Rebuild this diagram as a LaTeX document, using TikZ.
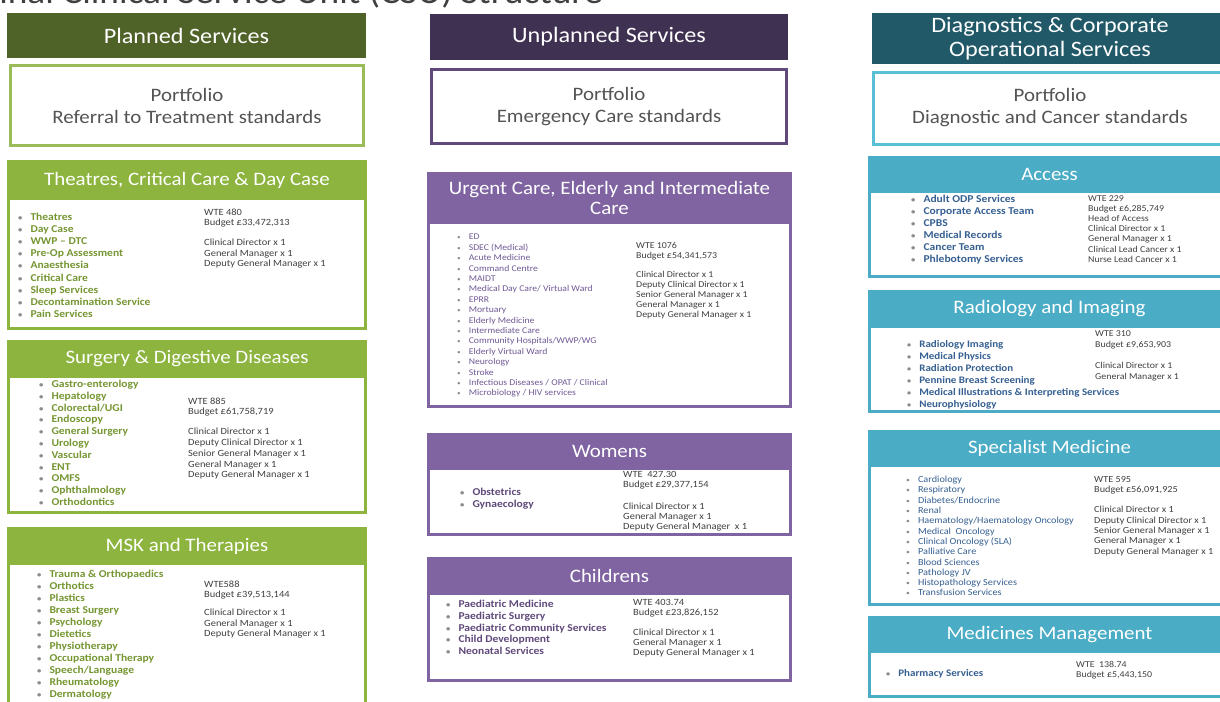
\documentclass[tikz,border=0pt]{standalone}
\usepackage{fontspec}
\setmainfont[FakeStretch=1.1]{Carlito}
\definecolor{plannedDark}{RGB}{79,98,40}
\definecolor{plannedMid}{RGB}{140,180,62}
\definecolor{plannedLight}{RGB}{155,187,89}
\definecolor{greenText}{RGB}{118,150,50}
\definecolor{unplannedDark}{RGB}{63,49,81}
\definecolor{unplannedLine}{RGB}{96,74,123}
\definecolor{unplannedMid}{RGB}{128,100,162}
\definecolor{purpleText}{RGB}{96,74,123}
\definecolor{purpleSoft}{RGB}{112,90,150}
\definecolor{diagDark}{RGB}{33,89,104}
\definecolor{diagMid}{RGB}{75,172,198}
\definecolor{diagLight}{RGB}{91,190,215}
\definecolor{blueText}{RGB}{54,96,146}
\definecolor{textgray}{RGB}{64,64,64}
\definecolor{portgray}{RGB}{84,84,84}
\definecolor{bulletgray}{RGB}{140,140,140}
\newcommand{\itm}[1]{{\color{bulletgray}\scalebox{0.75}{\textbullet}}\hspace{8pt}#1}

\begin{document}
\begin{tikzpicture}[x=1pt,y=-1pt,
  bighd/.style={fill=#1, text=white, inner sep=0pt, align=center, font=\fontsize{22}{24}\selectfont},
  port/.style={draw=#1, line width=3pt, fill=white, inner sep=0pt, align=center, text=portgray, font=\fontsize{19}{22}\selectfont},
  unit/.style={draw=#1, line width=3pt, fill=white, minimum width=357pt, inner sep=0pt},
  unithd/.style={fill=#1, text=white, minimum width=360pt, minimum height=38pt, inner sep=0pt, align=center, font=\fontsize{19}{20}\selectfont},
  lst/.style={anchor=north west, inner sep=0pt, align=left, text=#1, font=\fontsize{10.5}{12}\selectfont\bfseries},
  info/.style={anchor=north west, inner sep=0pt, align=left, text=textgray, font=\fontsize{9.5}{10.5}\selectfont}]
\useasboundingbox (0,0) rectangle (1220,701);
\clip (0,0) rectangle (1220,701);
\fill[white] (0,0) rectangle (1220,701);

\node[anchor=base east, inner sep=0pt, text=textgray, font=\fontsize{34}{36}\selectfont] (title) at (603,4) {Final Clinical Service Unit (CSU) Structure};

% planned services
\node[bighd=plannedDark, minimum width=359pt, minimum height=45pt] (planned) at (186.5,35.5) {Planned Services};
\node[port=plannedLight, minimum width=353pt, minimum height=80pt] (planned-port) at (187,105.5) {Portfolio\\Referral to Treatment standards};

\node[unit=plannedMid, minimum height=167pt] (theatres) at (187,245) {};
\node[unithd=plannedMid, minimum height=40pt] (theatres-hd) at (187,180) {Theatres, Critical Care \& Day Case};
\node[lst=greenText, font=\fontsize{10.5}{12.1}\selectfont\bfseries] (theatres-list) at (18,213) {\itm{Theatres}\\ \itm{Day Case}\\ \itm{WWP -- DTC}\\ \itm{Pre-Op Assessment}\\ \itm{Anaesthesia}\\ \itm{Critical Care}\\ \itm{Sleep Services}\\ \itm{Decontamination Service}\\ \itm{Pain Services}};
\node[info, font=\fontsize{9.5}{10.4}\selectfont] (theatres-info) at (204,208.5) {WTE 480\\ Budget £33,472,313\\[10pt] Clinical Director x 1\\ General Manager x 1\\ Deputy General Manager x 1};

\node[unit=plannedMid, minimum height=171pt] (surgery) at (187,427) {};
\node[unithd=plannedMid] (surgery-hd) at (187,359) {Surgery \& Digestive Diseases};
\node[lst=greenText, font=\fontsize{10.5}{11.8}\selectfont\bfseries] (surgery-list) at (39,380) {\itm{Gastro-enterology}\\ \itm{Hepatology}\\ \itm{Colorectal/UGI}\\ \itm{Endoscopy}\\ \itm{General Surgery}\\ \itm{Urology}\\ \itm{Vascular}\\ \itm{ENT}\\ \itm{OMFS}\\ \itm{Ophthalmology}\\ \itm{Orthodontics}};
\node[info, font=\fontsize{9.5}{10.8}\selectfont] (surgery-info) at (188,397.5) {WTE 885\\ Budget £61,758,719\\[9pt] Clinical Director x 1\\ Deputy Clinical Director x 1\\ Senior General Manager x 1\\ General Manager x 1\\ Deputy General Manager x 1};

\node[unit=plannedMid, minimum height=200pt] (msk) at (187,628) {};
\node[unithd=plannedMid] (msk-hd) at (187,546) {MSK and Therapies};
\node[lst=greenText] (msk-list) at (37,570) {\itm{Trauma \& Orthopaedics}\\ \itm{Orthotics}\\ \itm{Plastics}\\ \itm{Breast Surgery}\\ \itm{Psychology}\\ \itm{Dietetics}\\ \itm{Physiotherapy}\\ \itm{Occupational Therapy}\\ \itm{Speech/Language}\\ \itm{Rheumatology}\\ \itm{Dermatology}};
\node[info] (msk-info) at (204,580.5) {WTE588\\ Budget £39,513,144\\[7.5pt] Clinical Director x 1\\ General Manager x 1\\ Deputy General Manager x 1};

% unplanned services
\node[bighd=unplannedDark, minimum width=358pt, minimum height=46pt] (unplanned) at (609,37) {Unplanned Services};
\node[port=unplannedLine, minimum width=355pt, minimum height=74pt] (unplanned-port) at (609,106.5) {Portfolio\\Emergency Care standards};

\node[unit=unplannedMid, minimum width=362pt, minimum height=233pt] (urgent) at (609.5,290) {};
\node[unithd=unplannedMid, minimum width=365pt, minimum height=52pt] (urgent-hd) at (609.5,198) {Urgent Care, Elderly and Intermediate\\Care};
\node[lst=purpleSoft, font=\fontsize{8.8}{10.4}\selectfont] (urgent-list) at (457,234) {\itm{ED}\\ \itm{SDEC (Medical)}\\ \itm{Acute Medicine}\\ \itm{Command Centre}\\ \itm{MAIDT}\\ \itm{Medical Day Care/ Virtual Ward}\\ \itm{EPRR}\\ \itm{Mortuary}\\ \itm{Elderly Medicine}\\ \itm{Intermediate Care}\\ \itm{Community Hospitals/WWP/WG}\\ \itm{Elderly Virtual Ward}\\ \itm{Neurology}\\ \itm{Stroke}\\ \itm{Infectious Diseases / OPAT / Clinical}\\ \itm{Microbiology / HIV services}};
\node[info, font=\fontsize{9}{10}\selectfont] (urgent-info) at (636,242) {WTE 1076\\ Budget £54,341,573\\[9pt] Clinical Director x 1\\ Deputy Clinical Director x 1\\ Senior General Manager x 1\\ General Manager x 1\\ Deputy General Manager x 1};

\node[unit=unplannedMid, minimum width=362pt, minimum height=100pt] (womens) at (609.5,484.5) {};
\node[unithd=unplannedMid, minimum width=365pt, minimum height=37pt] (womens-hd) at (609.5,451.5) {Womens};
\node[lst=purpleText] (womens-list) at (460,488) {\itm{Obstetrics}\\ \itm{Gynaecology}};
\node[info, font=\fontsize{9.5}{10}\selectfont] (womens-info) at (623,471.5) {WTE\ \ 427.30\\ Budget £29,377,154\\[12pt] Clinical Director x 1\\ General Manager x 1\\ Deputy General Manager\ \ x 1};

\node[unit=unplannedMid, minimum width=362pt, minimum height=122pt] (childrens) at (609.5,619.5) {};
\node[unithd=unplannedMid, minimum width=365pt] (childrens-hd) at (609.5,576) {Childrens};
\node[lst=purpleText, font=\fontsize{10.5}{11.75}\selectfont\bfseries] (childrens-list) at (446,600) {\itm{Paediatric Medicine}\\ \itm{Paediatric Surgery}\\ \itm{Paediatric Community Services}\\ \itm{Child Development}\\ \itm{Neonatal Services}};
\node[info, font=\fontsize{9.5}{10}\selectfont] (childrens-info) at (633,599) {WTE 403.74\\ Budget £23,826,152\\[10pt] Clinical Director x 1\\ General Manager x 1\\ Deputy General Manager x 1};

% diagnostics and corporate
\node[bighd=diagDark, minimum width=356pt, minimum height=51pt] (diagnostics) at (1050,38.5) {Diagnostics \& Corporate\\Operational Services};
\node[port=diagLight, minimum width=353pt, minimum height=72pt] (diag-port) at (1050,108) {Portfolio\\Diagnostic and Cancer standards};

\node[unit=diagMid, minimum width=361pt, minimum height=119pt] (access) at (1049.5,217) {};
\node[unithd=diagMid, minimum width=363pt, minimum height=37pt] (access-hd) at (1049.5,174.5) {Access};
\node[lst=blueText] (access-list) at (911,195) {\itm{Adult ODP Services}\\ \itm{Corporate Access Team}\\ \itm{CPBS}\\ \itm{Medical Records}\\ \itm{Cancer Team}\\ \itm{Phlebotomy Services}};
\node[info, font=\fontsize{9}{10.2}\selectfont] (access-info) at (1088,195) {WTE 229\\ Budget £6,285,749\\ Head of Access\\ Clinical Director x 1\\ General Manager x 1\\ Clinical Lead Cancer x 1\\ Nurse Lead Cancer x 1};

\node[unit=diagMid, minimum width=361pt, minimum height=120pt] (radiology) at (1049.5,351.5) {};
\node[unithd=diagMid, minimum width=363pt] (radiology-hd) at (1049.5,309) {Radiology and Imaging};
\node[lst=blueText, font=\fontsize{10}{12}\selectfont\bfseries] (radiology-list) at (907,340) {\itm{Radiology Imaging}\\ \itm{Medical Physics}\\ \itm{Radiation Protection}\\ \itm{Pennine Breast Screening}\\ \itm{Medical Illustrations \& Interpreting Services}\\ \itm{Neurophysiology}};
\node[info, font=\fontsize{9}{10.5}\selectfont] (radiology-info) at (1095,330.5) {WTE 310\\ Budget £9,653,903\\[11pt] Clinical Director x 1\\ General Manager x 1};

\node[unit=diagMid, minimum width=361pt, minimum height=173pt] (specialist) at (1049.5,518) {};
\node[unithd=diagMid, minimum width=363pt, minimum height=37pt] (specialist-hd) at (1049.5,448.5) {Specialist Medicine};
\node[lst=blueText, font=\fontsize{9.3}{10.3}\selectfont] (specialist-list) at (906,476) {\itm{Cardiology}\\ \itm{Respiratory}\\ \itm{Diabetes/Endocrine}\\ \itm{Renal}\\ \itm{Haematology/Haematology Oncology}\\ \itm{Medical\ \ Oncology}\\ \itm{Clinical Oncology (SLA)}\\ \itm{Palliative Care}\\ \itm{Blood Sciences}\\ \itm{Pathology JV}\\ \itm{Histopathology Services}\\ \itm{Transfusion Services}};
\node[info, font=\fontsize{9.3}{10.3}\selectfont] (specialist-info) at (1094,476) {WTE 595\\ Budget £56,091,925\\[10pt] Clinical Director x 1\\ Deputy Clinical Director x 1\\ Senior General Manager x 1\\ General Manager x 1\\ Deputy General Manager x 1};

\node[unit=diagMid, minimum width=361pt, minimum height=79pt] (medicines) at (1049.5,657) {};
\node[unithd=diagMid, minimum width=363pt, minimum height=37pt] (medicines-hd) at (1049.5,634.5) {Medicines Management};
\node[lst=blueText, font=\fontsize{10}{12}\selectfont\bfseries] (medicines-list) at (886,669) {\itm{Pharmacy Services}};
\node[info, font=\fontsize{9}{10.5}\selectfont] (medicines-info) at (1076,661) {WTE\ \ 138.74\\ Budget £5,443,150};
\end{tikzpicture}
\end{document}
